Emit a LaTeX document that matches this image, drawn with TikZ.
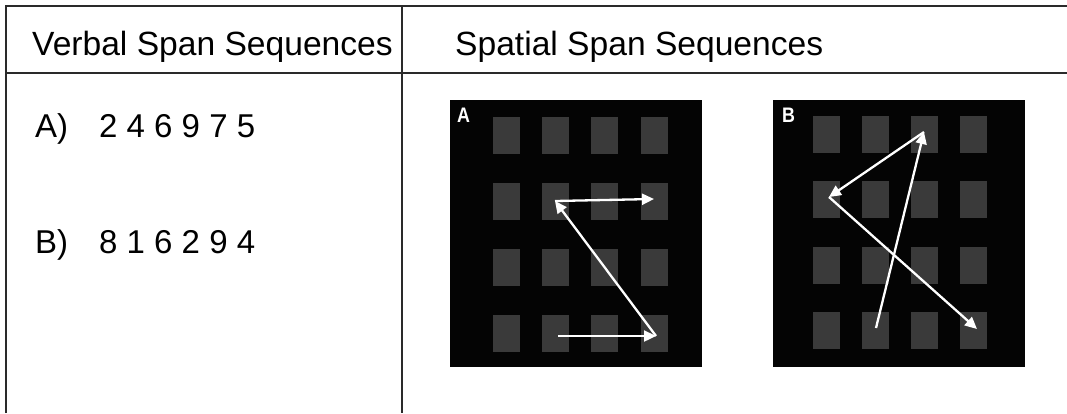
\documentclass[tikz,border=0pt]{standalone}
\usepackage{fontspec}
\setmainfont{Liberation Sans}
\usetikzlibrary{arrows.meta}
\definecolor{rule}{HTML}{2A2A2A}
\definecolor{cell}{HTML}{3A3A3A}
\definecolor{panel}{HTML}{040404}
\begin{document}
\begin{tikzpicture}[x=1pt,y=-1pt,
  tablerule/.style={draw=rule,line width=1.8pt},
  hdr/.style={anchor=base west,inner sep=0pt,font=\fontsize{33.6}{40}\selectfont},
  seq/.style={anchor=base west,inner sep=0pt,font=\fontsize{33}{40}\selectfont},
  panelbox/.style={fill=panel,draw=none},
  cellbox/.style={fill=cell,draw=none,minimum width=27pt,minimum height=37pt,inner sep=0pt},
  plabel/.style={anchor=north west,inner sep=0pt,text=white,font=\bfseries\fontsize{21}{21}\selectfont},
  trace/.style={draw=white,line width=2.3pt,-{Triangle[length=12pt,width=11pt]}}
]
\useasboundingbox (0,0) rectangle (1067,413);
\fill[white] (0,0) rectangle (1067,413);
% table
\draw[tablerule] (6,413) -- (6,6) -- (1067,6);
\draw[tablerule] (6,73) -- (1067,73);
\draw[tablerule] (402,6) -- (402,413);
% headers
\node[hdr] (h1) at (32,55) {Verbal Span Sequences};
\node[hdr] (h2) at (455,55) {Spatial Span Sequences};
% verbal sequences
\node[seq] (la) at (35,137) {A)};
\node[seq] (sa) at (99,137) {2 4 6 9 7 5};
\node[seq] (lb) at (35,253) {B)};
\node[seq] (sb) at (99,253) {8 1 6 2 9 4};
% panel A
\fill[panelbox] (450,100) rectangle (702,367);
\node[plabel,xscale=0.85,transform shape] (pa) at (457,108) {A};
\foreach \c/\x in {1/506.5,2/555.5,3/604.5,4/654}{
  \foreach \r/\y in {1/135.5,2/201,3/267,4/333.5}{
    \node[cellbox] (a\r\c) at (\x,\y) {};
  }
}
\coordinate (a1) at (558,336);
\coordinate (a2) at (656,336);
\coordinate (a3) at (555,201);
\coordinate (a4) at (654,199);
\draw[trace] (a1) -- (a2);
\draw[trace] (a2) -- (a3);
\draw[trace] (a3) -- (a4);
% panel B
\fill[panelbox] (773,100) rectangle (1025,367);
\node[plabel,xscale=0.85,transform shape] (pb) at (782,108) {B};
\foreach \c/\x in {1/826.5,2/875.5,3/924,4/973}{
  \foreach \r/\y in {1/134,2/199.5,3/265,4/330}{
    \node[cellbox] (b\r\c) at (\x,\y) {};
  }
}
\coordinate (b1) at (876,328);
\coordinate (b2) at (924,132);
\coordinate (b3) at (829,197);
\coordinate (b4) at (977,329);
\draw[trace] (b1) -- (b2);
\draw[trace] (b2) -- (b3);
\draw[trace] (b3) -- (b4);
\end{tikzpicture}
\end{document}
